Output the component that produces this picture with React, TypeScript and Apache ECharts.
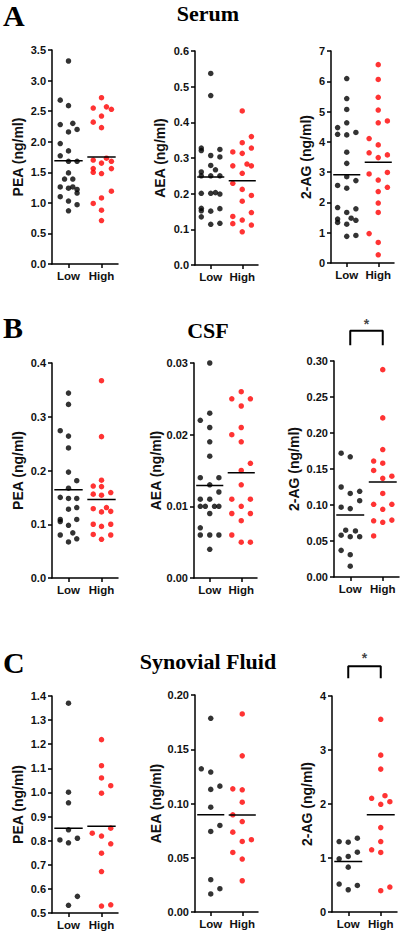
import React, { useEffect, useRef } from 'react';
import * as echarts from 'echarts';

const groups = ['Low', 'High'];
const rowLetters = ['A', 'B', 'C'];
const rowTitles = ['Serum', 'CSF', 'Synovial Fluid'];
const analyteNames = ['PEA (ng/ml)', 'AEA (ng/ml)', '2-AG (ng/ml)'];

// ---- Serum ----
const serumPeaLow = [3.32, 2.68, 2.59, 2.28, 2.3, 2.16, 2.2, 1.97, 1.85, 1.77, 1.68, 1.68, 1.49, 1.39, 1.39, 1.26, 1.24, 1.26, 1.22, 1.16, 1.1, 1.03, 0.97, 0.87];
const serumPeaLowX = [0, -0.25, 0, -0.25, 0.13, 0, 0.26, -0.25, 0, -0.25, 0, 0.26, 0, -0.12, 0.13, -0.25, 0, 0.13, 0.26, 0.26, -0.25, 0, 0.26, 0];
const serumPeaHigh = [2.72, 2.55, 2.57, 2.53, 2.42, 2.32, 2.23, 1.73, 1.7, 1.68, 1.65, 1.56, 1.56, 1.5, 1.48, 1.19, 1.08, 0.99, 0.88, 0.71];
const serumPeaHighX = [0, -0.25, 0.15, 0.3, 0, -0.25, 0, 0.15, -0.25, 0.3, 0, -0.25, 0.3, -0.25, 0, 0.3, 0, -0.25, 0, 0];
const serumPeaMean = [1.69, 1.75];

const serumAeaLow = [0.537, 0.475, 0.328, 0.321, 0.324, 0.307, 0.303, 0.279, 0.267, 0.261, 0.25, 0.25, 0.25, 0.201, 0.201, 0.203, 0.199, 0.159, 0.152, 0.151, 0.158, 0.135, 0.114, 0.117];
const serumAeaLowX = [0, 0, -0.3, -0.3, 0.29, 0, 0.29, 0, 0.15, -0.3, -0.3, 0, 0.29, -0.3, 0, 0.15, 0.29, -0.3, -0.3, 0, 0.29, -0.3, 0, 0.29];
const serumAeaHigh = [0.432, 0.36, 0.343, 0.328, 0.317, 0.313, 0.278, 0.283, 0.278, 0.257, 0.229, 0.212, 0.195, 0.179, 0.147, 0.136, 0.126, 0.116, 0.112, 0.093];
const serumAeaHighX = [0, 0.29, 0, 0.29, -0.3, 0, -0.3, 0.15, 0.29, 0, -0.3, 0, 0.29, 0, 0.29, -0.3, 0, -0.3, 0.29, 0];
const serumAeaMean = [0.247, 0.236];

const serum2agLow = [6.09, 5.43, 5.07, 4.63, 4.47, 4.25, 4.23, 4.31, 3.66, 3.29, 2.85, 2.72, 2.56, 2.47, 1.83, 1.79, 1.67, 1.48, 1.45, 1.41, 1.34, 1.28, 0.91, 0.88];
const serum2agLowX = [0, 0, 0, 0, -0.29, -0.29, 0, 0.29, 0, 0, 0, 0.29, -0.29, 0, -0.29, 0.29, 0, 0.14, -0.29, 0.29, -0.29, 0, 0.29, 0];
const serum2agHigh = [6.55, 6.06, 5.47, 5.05, 4.63, 4.69, 4.11, 3.9, 3.64, 3.57, 3.48, 2.94, 2.99, 2.74, 2.5, 2.36, 1.98, 1.67, 0.97, 0.68, 0.27];
const serum2agHighX = [0, 0, 0, 0, 0, 0.29, -0.29, 0, -0.29, 0.29, 0, -0.29, 0.29, 0, 0.29, 0, 0, 0, -0.29, 0, 0];
const serum2agMean = [2.91, 3.33];

// ---- CSF ----
const csfPeaLow = [0.344, 0.323, 0.274, 0.264, 0.242, 0.197, 0.181, 0.167, 0.15, 0.148, 0.148, 0.128, 0.131, 0.109, 0.105, 0.109, 0.098, 0.084, 0.08, 0.073, 0.067];
const csfPeaLowX = [0, 0, -0.25, 0, 0, 0, 0.25, 0, -0.25, 0, 0.25, 0, 0.25, -0.25, -0.25, 0.25, 0, 0.13, -0.25, 0.25, 0];
const csfPeaHigh = [0.367, 0.263, 0.182, 0.171, 0.17, 0.156, 0.154, 0.159, 0.129, 0.131, 0.123, 0.124, 0.1, 0.096, 0.1, 0.081, 0.08, 0.072];
const csfPeaHighX = [0, 0, 0, -0.25, 0, -0.25, 0, 0.28, -0.25, 0.15, 0, 0.28, -0.25, 0, 0.28, -0.25, 0.28, 0];
const csfPeaMean = [0.164, 0.146];

const csfAeaLow = [0.03, 0.023, 0.022, 0.021, 0.019, 0.017, 0.014, 0.014, 0.013, 0.012, 0.011, 0.011, 0.01, 0.01, 0.01, 0.01, 0.009, 0.007, 0.006, 0.006, 0.006, 0.004];
const csfAeaLowX = [0, 0, -0.3, 0, 0, 0, -0.3, 0.29, 0, 0.29, -0.3, 0, -0.3, -0.14, 0.15, 0.29, 0, -0.3, -0.3, 0, 0.29, 0];
const csfAeaHigh = [0.026, 0.025, 0.025, 0.024, 0.021, 0.02, 0.019, 0.016, 0.015, 0.013, 0.011, 0.011, 0.01, 0.009, 0.009, 0.008, 0.006, 0.005, 0.005];
const csfAeaHighX = [0, -0.3, 0.29, 0, 0, -0.3, 0, 0.29, 0, 0, -0.3, 0.29, 0, -0.3, 0.29, 0, -0.3, 0, 0.29];
const csfAeaMean = [0.0129, 0.0147];

const csf2agLow = [0.172, 0.167, 0.125, 0.119, 0.116, 0.106, 0.097, 0.095, 0.065, 0.064, 0.058, 0.056, 0.056, 0.037, 0.031, 0.015];
const csf2agLowX = [-0.28, 0, -0.28, 0.29, 0, 0.29, -0.28, 0, -0.14, 0.16, -0.28, 0, 0.29, -0.28, 0, 0];
const csf2agHigh = [0.288, 0.221, 0.177, 0.161, 0.158, 0.148, 0.137, 0.14, 0.116, 0.101, 0.101, 0.094, 0.078, 0.076, 0.079, 0.057];
const csf2agHighX = [0, 0, 0, -0.28, 0, -0.28, 0, 0.28, 0, -0.28, 0.28, 0, -0.28, 0, 0.28, -0.28];
const csf2agMean = [0.086, 0.132];

// ---- Synovial fluid ----
const sfPeaLow = [1.37, 1.001, 0.957, 0.845, 0.803, 0.81, 0.791, 0.569, 0.532];
const sfPeaLowX = [0, 0, 0, 0, -0.26, 0.27, 0, 0.27, 0];
const sfPeaHigh = [1.219, 1.111, 1.06, 1.028, 0.997, 0.831, 0.819, 0.852, 0.787, 0.748, 0.672, 0.529, 0.534];
const sfPeaHighX = [0, 0, 0, 0.28, 0, -0.28, 0, 0.28, 0.28, 0, 0, 0, 0.28];
const sfPeaMean = [0.852, 0.86];

const sfAeaLow = [0.1785, 0.132, 0.129, 0.113, 0.116, 0.0966, 0.0798, 0.0742, 0.0298, 0.0215, 0.0166];
const sfAeaLowX = [0, -0.3, 0, 0, 0.29, 0, 0.29, 0, 0, 0.29, 0];
const sfAeaHigh = [0.1825, 0.1439, 0.1135, 0.1126, 0.1012, 0.0896, 0.0834, 0.0736, 0.065, 0.0666, 0.0549, 0.0488, 0.0288];
const sfAeaHighX = [0, 0, -0.3, 0, 0, -0.3, 0, -0.3, 0, 0.29, -0.3, 0, 0];
const sfAeaMean = [0.0896, 0.0893];

const sf2agLow = [1.305, 1.292, 1.366, 0.985, 1.028, 1.108, 0.831, 0.517, 0.492, 0.412];
const sf2agLowX = [-0.28, 0, 0.28, -0.28, 0, 0.28, 0, -0.28, 0.28, 0];
const sf2agHigh = [3.569, 2.905, 2.646, 2.105, 2.154, 1.994, 2.043, 1.563, 1.305, 1.151, 1.102, 0.394, 0.462];
const sf2agHighX = [0, 0, 0, -0.28, 0.13, 0, 0.28, 0, 0, -0.28, 0, 0, 0.28];
const sf2agMean = [0.935, 1.803];

const significance = ['*'];

const FONT = '"Liberation Sans", Arial, Helvetica, sans-serif';
const SERIF = '"Liberation Serif", "Times New Roman", serif';
const BLACK = '#000000';
const RED = '#ff0000';

type Panel = {
  low: number[]; lowX: number[]; high: number[]; highX: number[]; mean: number[];
  name: string; min: number; max: number; interval: number; dec: number;
  g: [number, number, number, number]; nameGap: number;
  sig?: { bottom: number; top: number; star: number };
};

const panels: Panel[] = [
  { low: serumPeaLow, lowX: serumPeaLowX, high: serumPeaHigh, highX: serumPeaHighX, mean: serumPeaMean, name: analyteNames[0], min: 0, max: 3.5, interval: 0.5, dec: 1, g: [52, 50, 66, 214], nameGap: 27 },
  { low: serumAeaLow, lowX: serumAeaLowX, high: serumAeaHigh, highX: serumAeaHighX, mean: serumAeaMean, name: analyteNames[1], min: 0, max: 0.6, interval: 0.1, dec: 1, g: [195, 51, 63, 214], nameGap: 28 },
  { low: serum2agLow, lowX: serum2agLowX, high: serum2agHigh, highX: serum2agHighX, mean: serum2agMean, name: analyteNames[2], min: 0, max: 7, interval: 1, dec: 0, g: [331, 51, 63, 212], nameGap: 18 },
  { low: csfPeaLow, lowX: csfPeaLowX, high: csfPeaHigh, highX: csfPeaHighX, mean: csfPeaMean, name: analyteNames[0], min: 0, max: 0.4, interval: 0.1, dec: 1, g: [52, 363, 66, 215], nameGap: 27 },
  { low: csfAeaLow, lowX: csfAeaLowX, high: csfAeaHigh, highX: csfAeaHighX, mean: csfAeaMean, name: analyteNames[1], min: 0, max: 0.03, interval: 0.01, dec: 2, g: [194, 363, 63, 215], nameGap: 31 },
  { low: csf2agLow, lowX: csf2agLowX, high: csf2agHigh, highX: csf2agHighX, mean: csf2agMean, name: analyteNames[2], min: 0, max: 0.3, interval: 0.05, dec: 2, g: [334, 361, 65, 216], nameGap: 33, sig: { bottom: 0.322, top: 0.342, star: 0.351 } },
  { low: sfPeaLow, lowX: sfPeaLowX, high: sfPeaHigh, highX: sfPeaHighX, mean: sfPeaMean, name: analyteNames[0], min: 0.5, max: 1.4, interval: 0.1, dec: 1, g: [52, 696, 66, 217], nameGap: 27 },
  { low: sfAeaLow, lowX: sfAeaLowX, high: sfAeaHigh, highX: sfAeaHighX, mean: sfAeaMean, name: analyteNames[1], min: 0, max: 0.2, interval: 0.05, dec: 2, g: [195, 695, 63, 217], nameGap: 32 },
  { low: sf2agLow, lowX: sf2agLowX, high: sf2agHigh, highX: sf2agHighX, mean: sf2agMean, name: analyteNames[2], min: 0, max: 4, interval: 1, dec: 0, g: [332, 696, 65, 216], nameGap: 18, sig: { bottom: 4.33, top: 4.55, star: 4.71 } },
];

// vertical centres of the row letters and row titles
const letterMid = [15, 327, 662];
const titleMid = [13, 330, 661];

function buildOption(): any {
  const axisLine = { show: true, onZero: false, lineStyle: { color: BLACK, width: 1.5 } };
  const axisTick = { show: true, length: 4, lineStyle: { color: BLACK, width: 1.5 } };
  const grid = panels.map((p) => ({ left: p.g[0], top: p.g[1], width: p.g[2], height: p.g[3] }));
  const xAxis: any[] = [];
  const yAxis: any[] = [];
  const series: any[] = [];
  panels.forEach((p, i) => {
    xAxis.push({
      type: 'category', gridIndex: i, data: groups, boundaryGap: true,
      axisLine, axisTick: { ...axisTick, alignWithLabel: true, interval: 0 },
      axisLabel: { interval: 0, hideOverlap: false, fontSize: 11.5, fontWeight: 'bold', color: '#111', margin: 6, fontFamily: FONT },
      splitLine: { show: false },
    });
    xAxis.push({ type: 'value', gridIndex: i, min: -0.5, max: 1.5, show: false });
    yAxis.push({
      type: 'value', gridIndex: i, min: p.min, max: p.max, interval: p.interval,
      name: p.name, nameLocation: 'middle', nameGap: p.nameGap,
      nameTextStyle: { fontSize: 14, fontWeight: 'bold', color: '#111', fontFamily: FONT },
      axisLine, axisTick,
      axisLabel: { fontSize: 11, fontWeight: 'bold', color: '#111', margin: 6, fontFamily: FONT, formatter: (v: number) => v.toFixed(p.dec) },
      splitLine: { show: false },
    });
    const xi = 2 * i + 1;
    series.push({
      type: 'scatter', xAxisIndex: xi, yAxisIndex: i, symbolSize: 5.5, clip: false,
      itemStyle: { color: BLACK }, data: p.low.map((v, k) => [0 + p.lowX[k], v]),
    });
    series.push({
      type: 'scatter', xAxisIndex: xi, yAxisIndex: i, symbolSize: 5.5, clip: false,
      itemStyle: { color: RED }, data: p.high.map((v, k) => [1 + p.highX[k], v]),
    });
    p.mean.forEach((m, c) => {
      series.push({
        type: 'line', xAxisIndex: xi, yAxisIndex: i, symbol: 'none', silent: true,
        lineStyle: { color: BLACK, width: 1.5 }, data: [[c - 0.43, m], [c + 0.43, m]],
      });
    });
    if (p.sig) {
      series.push({
        type: 'line', xAxisIndex: xi, yAxisIndex: i, symbol: 'none', clip: false, silent: true,
        lineStyle: { color: BLACK, width: 2 },
        data: [[0, p.sig.bottom], [0, p.sig.top], [1, p.sig.top], [1, p.sig.bottom]],
      });
      series.push({
        type: 'scatter', xAxisIndex: xi, yAxisIndex: i, symbolSize: 1, clip: false, silent: true,
        itemStyle: { color: 'rgba(0,0,0,0)' },
        label: { show: true, position: 'inside', formatter: significance[0], fontSize: 14, fontWeight: 'bold', color: '#111', fontFamily: FONT },
        data: [[0.5, p.sig.star]],
      });
    }
  });
  const graphic: any[] = [];
  rowLetters.forEach((L, r) => {
    graphic.push({ type: 'text', x: 3, y: letterMid[r], style: { text: L, font: `bold 30px ${SERIF}`, fill: BLACK, align: 'left', verticalAlign: 'middle' } });
    graphic.push({ type: 'text', x: 208, y: titleMid[r], style: { text: rowTitles[r], font: `bold 22px ${SERIF}`, fill: BLACK, align: 'center', verticalAlign: 'middle' } });
  });
  return { animation: false, backgroundColor: '#ffffff', grid, xAxis, yAxis, series, graphic };
}

export default function App() {
  const ref = useRef<HTMLDivElement>(null);
  useEffect(() => {
    if (!ref.current) return;
    const chart = echarts.init(ref.current, undefined, { renderer: 'svg' });
    chart.setOption(buildOption());
    return () => chart.dispose();
  }, []);
  return <div ref={ref} style={{ position: 'absolute', left: 0, top: 0, width: 400, height: 931, background: '#fff' }} />;
}
